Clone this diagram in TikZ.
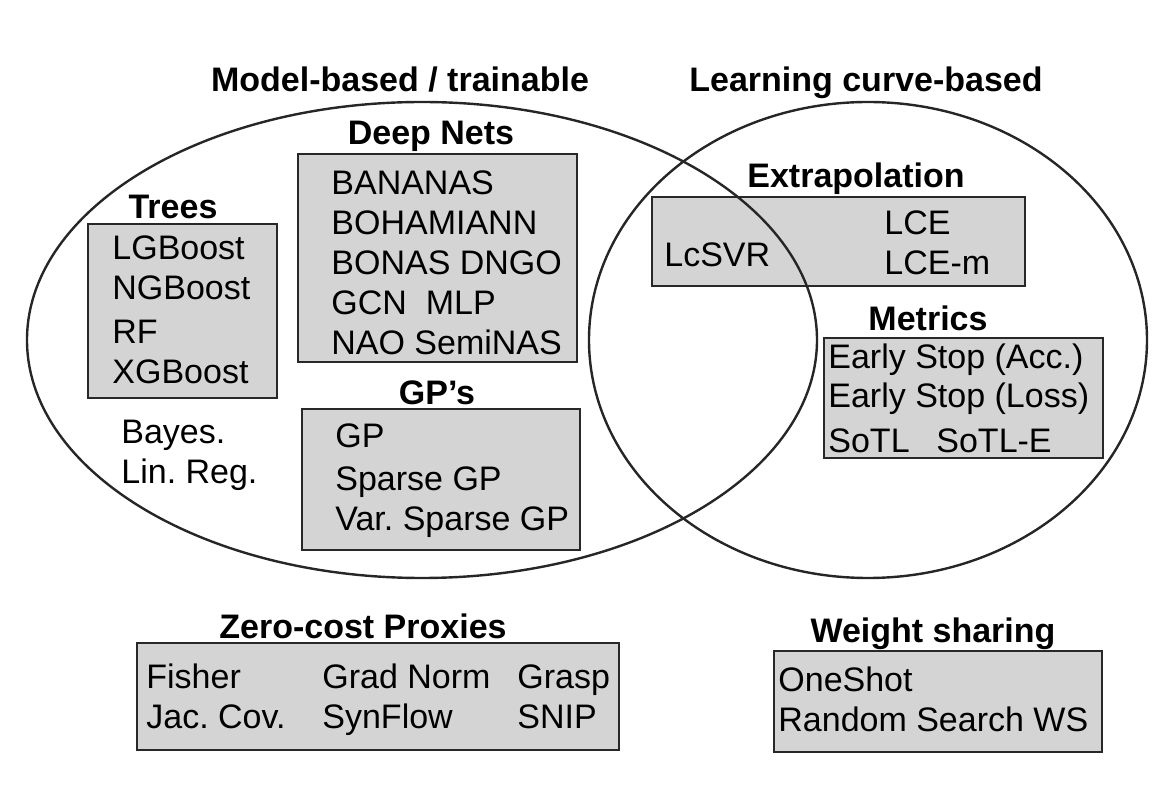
\documentclass[tikz,border=0pt]{standalone}
\usepackage{fontspec}
\setmainfont{Liberation Sans}
\usetikzlibrary{shapes.geometric}
\definecolor{boxgray}{RGB}{212,212,212}
\definecolor{edgegray}{RGB}{40,40,40}
\frenchspacing
\begin{document}
\begin{tikzpicture}[x=0.5pt,y=-0.5pt,
  box/.style={draw=edgegray,line width=1.3pt,fill=boxgray,inner sep=0pt,minimum width=#1},
  ttl/.style={anchor=base,font=\fontsize{17}{20}\selectfont\bfseries,inner sep=0pt},
  itm/.style={anchor=base west,font=\fontsize{17}{20}\selectfont\frenchspacing,inner sep=0pt},
  ring/.style={draw=black!85,line width=1.2pt}]
\useasboundingbox (0,0) rectangle (1164,796);
% boxes
\node[box=94.5pt,minimum height=87pt] (treesbox) at (182.5,311) {};
\node[box=139.5pt,minimum height=104pt] (deepbox) at (437.5,258) {};
\node[box=139pt,minimum height=70.5pt] (gpbox) at (441,479.5) {};
\node[box=186.5pt,minimum height=44.5pt] (extrabox) at (838.5,241.5) {};
\node[box=139.5pt,minimum height=60pt] (metricbox) at (963.5,398) {};
\node[box=241pt,minimum height=53.5pt] (zcbox) at (378,696.5) {};
\node[box=164pt,minimum height=50.5pt] (wsbox) at (938,701.5) {};
% ellipses
\node[ring,ellipse,minimum width=395pt,minimum height=238pt,inner sep=0pt] (left) at (422,340) {};
\node[ring,ellipse,minimum width=279pt,minimum height=238pt,inner sep=0pt] (right) at (868,340) {};
% titles
\node[ttl] (t1) at (400,92) {Model-based / trainable};
\node[ttl] (t2) at (866,92) {Learning curve-based};
\node[ttl] (t3) at (431,145) {Deep Nets};
\node[ttl] (t4) at (173,219) {Trees};
\node[ttl] (t5) at (437,405) {GP’s};
\node[ttl] (t6) at (856,188) {Extrapolation};
\node[ttl] (t7) at (928,331) {Metrics};
\node[ttl] (t8) at (363,639) {Zero-cost Proxies};
\node[ttl] (t9) at (933,643) {Weight sharing};
% Trees
\node[itm] (a1) at (112,260) {LGBoost};
\node[itm] (a2) at (112,300) {NGBoost};
\node[itm] (a3) at (112,344) {RF};
\node[itm] (a4) at (112,384) {XGBoost};
% Deep nets
\node[itm] (b1) at (331,195) {BANANAS};
\node[itm] (b2) at (331,235) {BOHAMIANN};
\node[itm] (b3) at (331,275) {BONAS DNGO};
\node[itm] (b4) at (331,315) {GCN\ \ MLP};
\node[itm] (b5) at (331,355) {NAO SemiNAS};
% Bayes
\node[itm] (c1) at (121,444) {Bayes.};
\node[itm] (c2) at (121,484) {Lin. Reg.};
% GP
\node[itm] (d1) at (335,448) {GP};
\node[itm] (d2) at (335,491) {Sparse GP};
\node[itm] (d3) at (335,531) {Var. Sparse GP};
% Extrapolation
\node[itm] (e1) at (664,267) {LcSVR};
\node[itm] (e2) at (884,235) {LCE};
\node[itm] (e3) at (884,275) {LCE-m};
% Metrics
\node[itm] (f1) at (828,369) {Early Stop (Acc.)};
\node[itm] (f2) at (828,408) {Early Stop (Loss)};
\node[itm] (f3) at (828,453) {SoTL};
\node[itm] (f4) at (936,453) {SoTL-E};
% Zero-cost
\node[itm] (g1) at (146,689) {Fisher};
\node[itm] (g2) at (146,729) {Jac. Cov.};
\node[itm] (g3) at (322,689) {Grad Norm};
\node[itm] (g4) at (322,729) {SynFlow};
\node[itm] (g5) at (517,689) {Grasp};
\node[itm] (g6) at (517,729) {SNIP};
% Weight sharing
\node[itm] (h1) at (778,692) {OneShot};
\node[itm] (h2) at (778,732) {Random Search WS};
\end{tikzpicture}
\end{document}
